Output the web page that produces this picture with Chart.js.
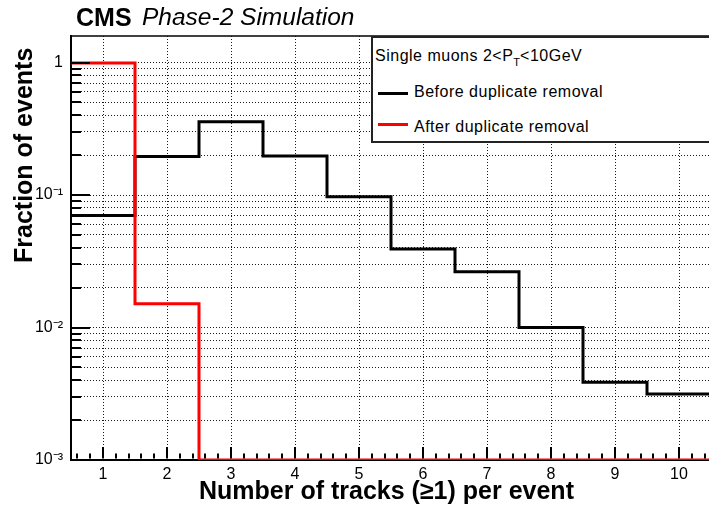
<!DOCTYPE html>
<html>
<head>
<meta charset="utf-8">
<title>Number of tracks per event</title>
<script src="https://cdn.jsdelivr.net/npm/chart.js@4.4.1/dist/chart.umd.min.js"></script>
<style>
  html, body { margin: 0; padding: 0; background: #fff; overflow: hidden; }
  #wrap { position: relative; width: 709px; height: 506px; overflow: hidden;
          font-family: 'Liberation Sans', Arial, Helvetica, sans-serif; color: #000; }
  #tracksChart { position: absolute; left: 0; top: 0; }
  .lbl { position: absolute; white-space: nowrap; line-height: 1; }
  #cms { left: 76px; top: 5px; font-size: 25px; font-weight: bold; }
  #sim { left: 142px; top: 5px; font-size: 24.5px; font-style: italic; }
  #xTitle { left: 0; width: 773px; text-align: center; top: 478px; font-size: 25px; font-weight: bold; }
  #yTitle { left: 11px; top: 263px; font-size: 25px; font-weight: bold;
            transform-origin: left top; transform: rotate(-90deg); }
  #legend { position: absolute; left: 371px; top: 36px; width: 420px; height: 103px;
            border: 2px solid #222; border-right: none; background: #fff; font-size: 16px; }
  #legend .lbl { letter-spacing: 0.5px; }
  #legend .mark { position: absolute; left: 5px; width: 30px; height: 3px; }
  sub { font-size: 11px; vertical-align: -5px; line-height: 0; letter-spacing: 0; }
</style>
</head>
<body>
<div id="wrap">
  <canvas id="tracksChart" width="711" height="506"></canvas>
  <div class="lbl" id="cms">CMS</div>
  <div class="lbl" id="sim">Phase-2 Simulation</div>
  <div class="lbl" id="yTitle">Fraction of events</div>
  <div class="lbl" id="xTitle">Number of tracks (≥1) per event</div>
  <div id="legend">
    <div class="lbl" style="left:2px; top:10px;">Single muons 2&lt;P<sub>T</sub>&lt;10GeV</div>
    <div class="mark" style="top:54px; background:#000;"></div>
    <div class="lbl" style="left:41px; top:46px;">Before duplicate removal</div>
    <div class="mark" style="top:85px; background:#ff0000;"></div>
    <div class="lbl" style="left:41px; top:81px;">After duplicate removal</div>
  </div>
</div>
<script>
// bins of the histogram (number of tracks per event)
const binCenters = [1, 2, 3, 4, 5, 6, 7, 8, 9, 10];
const beforeRemoval = [0.070, 0.195, 0.357, 0.197, 0.097, 0.0391, 0.0264, 0.0100, 0.00386, 0.00315];
const afterRemoval = [0.99, 0.0151, 0, 0, 0, 0, 0, 0, 0, 0];

// axis ticks
const xTickValues = [1, 2, 3, 4, 5, 6, 7, 8, 9, 10];
const yMajorTicks = [0.001, 0.01, 0.1, 1];
const yTickLabels = ['10\u207B\u00B3', '10\u207B\u00B2', '10\u207B\u00B9', '1'];

const yMin = 0.001;
const yMax = 1.585;

// minor log grid: 2..9 x each decade
let yGridValues = [];
yMajorTicks.forEach(d => {
    yGridValues.push(d);
    for (let m = 2; m <= 9; m++) {
        if (d * m <= yMax) yGridValues.push(d * m);
    }
});

// histogram outline: one point per left bin edge, plus the last right edge.
// empty bins sit on the bottom of the log axis, like ROOT draws them
function histPoints(values) {
    const pts = values.map((v, i) => ({ x: binCenters[i] - 0.5, y: Math.max(v, yMin) }));
    pts.push({ x: binCenters[binCenters.length - 1] + 0.5, y: Math.max(values[values.length - 1], yMin) });
    return pts;
}

const insideTicks = {
    id: 'insideTicks',
    afterDatasetsDraw(chart) {
        const { ctx, chartArea: a, scales: { x, y } } = chart;
        ctx.save();
        ctx.strokeStyle = '#000';
        ctx.lineWidth = 2;
        ctx.beginPath();
        for (let k = 3; k <= 52; k++) {
            const v = k / 5;
            const px = Math.round(x.getPixelForValue(v));
            const len = (k % 5 === 0) ? 13 : 6.5;
            ctx.moveTo(px, a.bottom - 1.5);
            ctx.lineTo(px, a.bottom - len);
        }
        yGridValues.forEach(v => {
            const py = Math.round(y.getPixelForValue(v));
            const len = yMajorTicks.includes(v) ? 19 : 10;
            ctx.moveTo(a.left, py);
            ctx.lineTo(a.left + len, py);
        });
        ctx.stroke();
        // top frame
        ctx.lineWidth = 1.5;
        ctx.beginPath();
        ctx.moveTo(a.left, a.top);
        ctx.lineTo(a.right + 2, a.top);
        ctx.stroke();
        ctx.restore();
    }
};

const gridStyle = {
    color: 'rgba(0, 0, 0, 0.9)',
    lineWidth: 1,
    drawTicks: false
};

new Chart(document.getElementById('tracksChart'), {
    type: 'line',
    data: {
        datasets: [
            {
                label: 'After duplicate removal',
                data: histPoints(afterRemoval),
                borderColor: '#ff0000',
                borderWidth: 3,
                stepped: true,
                pointRadius: 0,
                fill: false
            },
            {
                label: 'Before duplicate removal',
                data: histPoints(beforeRemoval),
                borderColor: '#000000',
                borderWidth: 3,
                stepped: true,
                pointRadius: 0,
                fill: false
            }
        ]
    },
    options: {
        responsive: false,
        animation: false,
        devicePixelRatio: 1,
        layout: { padding: { top: 36, left: 0, right: 0, bottom: 0 } },
        plugins: {
            legend: { display: false },
            tooltip: { enabled: false }
        },
        scales: {
            x: {
                type: 'linear',
                min: 0.5,
                max: 10.5,
                afterBuildTicks: scale => { scale.ticks = xTickValues.map(v => ({ value: v })); },
                afterFit: scale => { scale.height = 46; },
                grid: gridStyle,
                border: { display: true, color: '#000', width: 2, dash: [1, 2] },
                ticks: {
                    autoSkip: false,
                    maxRotation: 0,
                    padding: 5,
                    color: '#000',
                    font: { family: "'Liberation Sans', Arial, sans-serif", size: 16 },
                    callback: v => String(v)
                }
            },
            y: {
                type: 'logarithmic',
                min: yMin,
                max: yMax,
                afterBuildTicks: scale => { scale.ticks = yGridValues.map(v => ({ value: v })); },
                afterFit: scale => { scale.width = 71; },
                grid: gridStyle,
                border: { display: true, color: '#000', width: 2, dash: [1, 2] },
                ticks: {
                    autoSkip: false,
                    padding: 8,
                    color: '#000',
                    font: { family: "'Liberation Sans', Arial, sans-serif", size: 16 },
                    callback: v => {
                        const i = yMajorTicks.indexOf(v);
                        return i >= 0 ? yTickLabels[i] : '';
                    }
                }
            }
        }
    },
    plugins: [insideTicks]
});
</script>
</body>
</html>
